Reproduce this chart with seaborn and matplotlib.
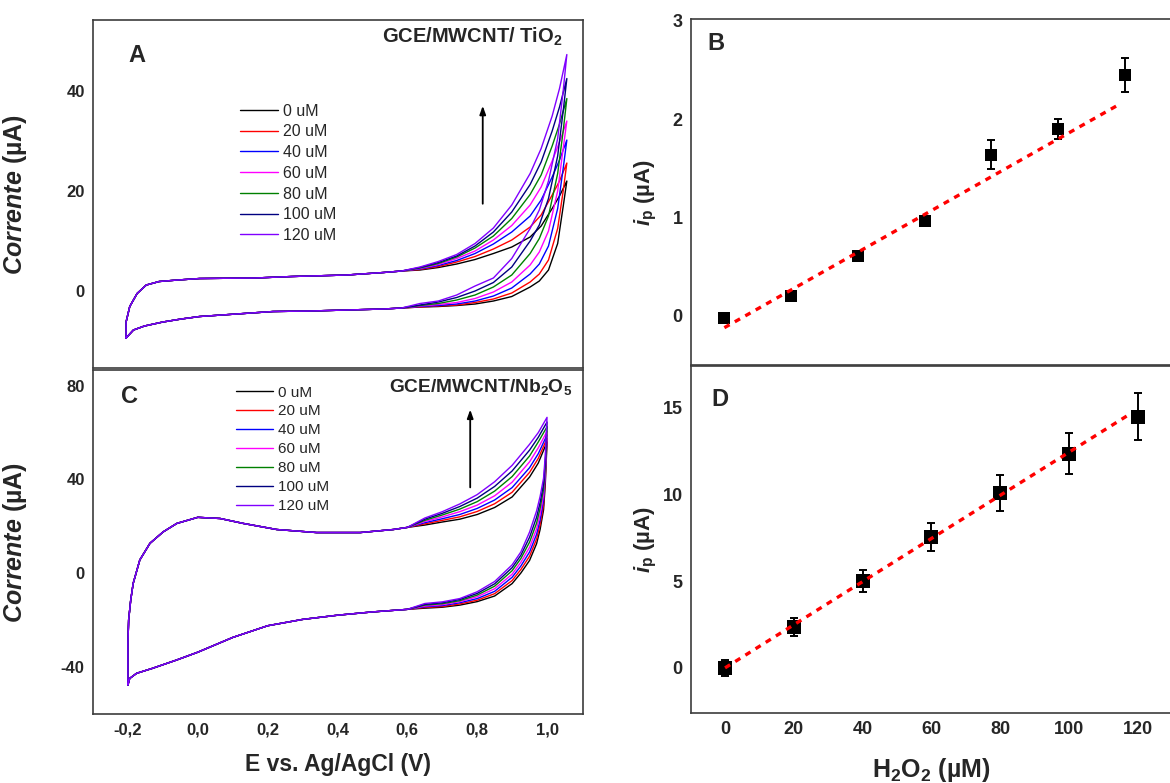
import numpy as np
import pandas as pd
import matplotlib
matplotlib.use("Agg")
import matplotlib.pyplot as plt
import seaborn as sns

# H2O2 additions and trace colours
conc_uM = [0, 20, 40, 60, 80, 100, 120]
conc_labels = ["0 uM", "20 uM", "40 uM", "60 uM", "80 uM", "100 uM", "120 uM"]
trace_colors = ["#000000", "#ff0000", "#0000ff", "#ff00ff", "#008000", "#000080", "#8000ff"]

# ---------------- GCE/MWCNT/TiO2 cyclic voltammograms ----------------
tio2_fwd_E_common = [-0.200, -0.200, -0.190, -0.170, -0.145, -0.110, -0.060, 0.000, 0.150, 0.250, 0.400, 0.500, 0.550]
tio2_fwd_I_common = [-9.4, -6.2, -3.1, -0.5, 1.2, 1.9, 2.2, 2.5, 2.6, 2.9, 3.2, 3.7, 4.0]
tio2_fwd_E = [0.60, 0.65, 0.70, 0.75, 0.80, 0.85, 0.90, 0.93, 0.96, 0.98, 1.00]
tio2_fwd_I = [
    [4.2, 4.7, 5.4, 6.3, 7.5, 8.8, 10.8, 13.0, 16.5, 19.0, 22.0],
    [4.3, 4.9, 5.8, 6.9, 8.4, 10.2, 12.8, 15.2, 19.2, 22.0, 25.6],
    [4.4, 5.1, 6.1, 7.5, 9.4, 11.8, 15.0, 18.2, 22.8, 26.2, 30.2],
    [4.5, 5.3, 6.5, 8.0, 10.2, 13.1, 17.2, 20.8, 26.0, 29.8, 34.0],
    [4.6, 5.5, 6.8, 8.6, 11.0, 14.5, 19.3, 23.2, 29.0, 33.4, 38.5],
    [4.7, 5.7, 7.0, 9.0, 11.8, 15.8, 21.3, 25.8, 32.0, 36.8, 42.5],
    [4.8, 5.9, 7.3, 9.5, 12.6, 17.2, 23.5, 28.5, 35.0, 40.5, 47.3],
]
tio2_rev_E = [1.00, 0.99, 0.975, 0.95, 0.925, 0.90, 0.85, 0.80, 0.75, 0.70, 0.65, 0.60]
tio2_rev_I = [
    [22.0, 16.9, 9.5, 4.2, 2.0, 0.8, -1.1, -2.0, -2.6, -2.9, -3.1, -3.2],
    [25.6, 20.0, 12.5, 6.2, 3.4, 1.8, -0.4, -1.6, -2.3, -2.8, -3.0, -3.2],
    [30.2, 24.5, 16.5, 9.0, 5.4, 3.4, 0.6, -1.0, -2.0, -2.6, -2.9, -3.1],
    [34.0, 28.5, 20.0, 12.0, 7.8, 5.2, 1.8, -0.2, -1.5, -2.3, -2.7, -3.0],
    [38.5, 32.0, 23.5, 15.0, 10.5, 7.5, 3.2, 0.8, -0.8, -1.8, -2.5, -2.9],
    [42.5, 36.0, 27.0, 18.5, 13.2, 10.0, 4.8, 1.7, 0.0, -1.3, -2.2, -2.8],
    [47.3, 40.0, 30.5, 22.0, 16.2, 12.5, 6.5, 2.6, 1.0, -0.8, -2.0, -2.5],
]
tio2_rev_E_common = [0.55, 0.50, 0.40, 0.30, 0.20, 0.10, 0.00, -0.05, -0.10, -0.15, -0.18, -0.20]
tio2_rev_I_common = [-3.4, -3.6, -3.8, -4.0, -4.1, -4.6, -5.1, -5.6, -6.2, -7.0, -7.8, -9.4]

# ---------------- GCE/MWCNT/Nb2O5 cyclic voltammograms ----------------
nb2o5_fwd_E_common = [-0.200, -0.200, -0.198, -0.192, -0.185, -0.166, -0.137, -0.099, -0.060, 0.000,
                      0.064, 0.130, 0.226, 0.340, 0.465, 0.560, 0.600]
nb2o5_fwd_I_common = [-47.8, -30.0, -20.0, -11.5, -4.4, 5.6, 12.7, 17.6, 21.2, 23.8,
                      23.3, 21.2, 18.6, 17.3, 17.3, 18.6, 19.5]
nb2o5_fwd_E = [0.65, 0.70, 0.75, 0.80, 0.85, 0.90, 0.95, 0.975, 1.00]
nb2o5_fwd_I = [
    [20.5, 21.8, 23.0, 25.0, 28.0, 32.5, 41.0, 47.0, 56.0],
    [21.0, 22.5, 24.0, 26.3, 29.6, 34.5, 43.0, 49.0, 57.5],
    [21.5, 23.2, 25.0, 27.6, 31.2, 36.5, 45.0, 51.0, 59.0],
    [22.0, 24.0, 26.2, 29.0, 33.0, 38.8, 47.5, 53.5, 60.5],
    [22.5, 24.8, 27.3, 30.5, 35.0, 41.2, 50.0, 56.0, 62.5],
    [23.0, 25.5, 28.4, 32.0, 37.0, 43.6, 52.5, 58.0, 64.5],
    [23.5, 26.2, 29.5, 33.5, 39.0, 46.0, 55.0, 60.0, 66.5],
]
nb2o5_rev_E = [1.00, 0.995, 0.99, 0.98, 0.97, 0.95, 0.925, 0.90, 0.85, 0.80, 0.75, 0.70, 0.65]
nb2o5_rev_I = [
    [56.0, 38.0, 27.0, 18.5, 12.5, 5.4, 0.0, -4.5, -9.8, -12.2, -13.7, -14.6, -15.0],
    [57.5, 40.0, 29.0, 20.5, 14.5, 7.2, 1.5, -3.2, -8.8, -11.6, -13.2, -14.3, -14.7],
    [59.0, 42.0, 31.0, 22.5, 16.5, 9.0, 3.0, -1.8, -7.8, -10.9, -12.7, -13.9, -14.4],
    [60.5, 44.0, 33.3, 25.0, 18.8, 11.0, 4.6, -0.5, -6.7, -10.1, -12.2, -13.5, -14.1],
    [62.5, 46.0, 35.8, 27.6, 21.3, 13.2, 6.2, 1.0, -5.6, -9.4, -11.8, -13.1, -13.7],
    [64.5, 48.0, 38.0, 30.0, 23.8, 15.3, 7.6, 2.3, -4.6, -8.7, -11.3, -12.7, -13.4],
    [66.5, 50.0, 40.5, 32.6, 26.5, 17.5, 9.0, 3.5, -3.6, -8.0, -10.9, -12.3, -13.0],
]
nb2o5_rev_E_common = [0.60, 0.50, 0.40, 0.30, 0.20, 0.10, 0.00, -0.06, -0.13, -0.175, -0.195, -0.20]
nb2o5_rev_I_common = [-15.5, -16.6, -18.0, -19.8, -22.5, -27.5, -33.8, -37.1, -40.7, -42.8, -45.0, -47.8]

# ---------------- calibration (peak current vs. H2O2) ----------------
ip_tio2 = [-0.02, 0.20, 0.61, 0.97, 1.64, 1.90, 2.45]
ip_tio2_err = [0.02, 0.04, 0.04, 0.05, 0.15, 0.10, 0.17]
fit_tio2 = (-0.12, 0.0192)          # intercept, slope
ip_nb2o5 = [0.0, 2.35, 5.0, 7.54, 10.1, 12.35, 14.48]
ip_nb2o5_err = [0.45, 0.5, 0.65, 0.83, 1.03, 1.2, 1.35]
fit_nb2o5 = (0.0, 0.1243)
fit_range = [0, 118]

cv_xticks = [-0.2, 0.0, 0.2, 0.4, 0.6, 0.8, 1.0]
cv_xticklabels = ["-0,2", "0,0", "0,2", "0,4", "0,6", "0,8", "1,0"]

# ---------------- styling ----------------
sns.set_style("white")
plt.rcParams["font.family"] = ["Liberation Sans", "DejaVu Sans"]
plt.rcParams["font.weight"] = "bold"
plt.rcParams["axes.labelweight"] = "bold"
plt.rcParams["axes.unicode_minus"] = False
plt.rcParams["mathtext.fontset"] = "custom"
plt.rcParams["mathtext.rm"] = "Liberation Sans:bold"
plt.rcParams["mathtext.it"] = "Liberation Sans:italic:bold"
plt.rcParams["mathtext.bf"] = "Liberation Sans:bold"

SPINE = "#3c3c3c"


def cv_frame(fE_c, fI_c, fE, fI, rE, rI, rE_c, rI_c):
    parts = []
    for label, f_i, r_i in zip(conc_labels, fI, rI):
        E = list(fE_c) + list(fE) + list(rE) + list(rE_c)
        I = list(fI_c) + list(f_i) + list(r_i) + list(rI_c)
        parts.append(pd.DataFrame({"E": E, "I": I, "conc": label}))
    return pd.concat(parts, ignore_index=True)


def style_axes(ax):
    for s in ax.spines.values():
        s.set_visible(True)
        s.set_color(SPINE)
        s.set_linewidth(1.2)
    ax.tick_params(length=0, pad=6)


def draw_cv(ax, df, legend_anchor, legend_size, row_space, handle_len):
    sns.lineplot(data=df, x="E", y="I", hue="conc", hue_order=conc_labels,
                 palette=trace_colors, sort=False, estimator=None,
                 linewidth=1.0, ax=ax)
    handles, labels = ax.get_legend_handles_labels()
    ax.legend(handles, labels, loc="upper left", bbox_to_anchor=legend_anchor,
              frameon=False, handlelength=handle_len, handletextpad=0.3,
              labelspacing=row_space, borderpad=0, borderaxespad=0,
              prop={"weight": "normal", "size": legend_size})


def draw_calibration(ax, ip, err, fit, msize):
    ax.errorbar(conc_uM, ip, yerr=err, fmt="none", ecolor="black",
                elinewidth=1.4, capsize=2.6, capthick=1.4, zorder=2)
    sns.scatterplot(x=conc_uM, y=ip, marker="s", s=msize, color="black",
                    linewidth=0, ax=ax, zorder=3)
    fx = np.array(fit_range, dtype=float)
    sns.lineplot(x=fx, y=fit[0] + fit[1] * fx, color="red", linewidth=2.4,
                 linestyle=(0, (1.8, 1.8)), ax=ax, zorder=4)


fig = plt.figure(figsize=(11.7, 7.83), dpi=100)
axA = fig.add_axes([0.0795, 0.530, 0.4188, 0.4444])
axC = fig.add_axes([0.0795, 0.0881, 0.4188, 0.4393])
axB = fig.add_axes([0.5906, 0.5338, 0.441, 0.4419])
axD = fig.add_axes([0.5906, 0.0894, 0.441, 0.4432])

arrow_style = dict(arrowstyle="-|>,head_length=0.5,head_width=0.18", color="black", lw=1.3)

# --- A: TiO2 voltammograms ---
dfA = cv_frame(tio2_fwd_E_common, tio2_fwd_I_common, tio2_fwd_E, tio2_fwd_I,
               tio2_rev_E, tio2_rev_I, tio2_rev_E_common, tio2_rev_I_common)
draw_cv(axA, dfA, (0.30, 0.760), 11.5, 0.36, 2.38)
axA.set_xlim(-0.29, 1.044)
axA.set_ylim(-15.4, 54.2)
axA.set_yticks([0, 20, 40])
axA.set_xticks([])
axA.set_xlabel("")
axA.set_ylabel(r"$\mathit{Corrente}$ (µA)", fontsize=18)
axA.yaxis.set_label_coords(-0.13, 0.5)
axA.annotate("", xy=(0.771, 37.6), xytext=(0.771, 16.9), arrowprops=arrow_style)
axA.text(0.959, 0.935, r"GCE/MWCNT/ TiO$_2$", transform=axA.transAxes,
         ha="right", va="baseline", fontsize=14.5)
axA.text(0.089, 0.899, "A", transform=axA.transAxes, ha="center", va="center", fontsize=17)

# --- C: Nb2O5 voltammograms ---
dfC = cv_frame(nb2o5_fwd_E_common, nb2o5_fwd_I_common, nb2o5_fwd_E, nb2o5_fwd_I,
               nb2o5_rev_E, nb2o5_rev_I, nb2o5_rev_E_common, nb2o5_rev_I_common)
draw_cv(axC, dfC, (0.292, 0.955), 11, 0.32, 2.42)
axC.set_xlim(-0.30, 1.103)
axC.set_ylim(-60.2, 86.7)
axC.set_yticks([-40, 0, 40, 80])
axC.set_xticks(cv_xticks)
axC.set_xticklabels(cv_xticklabels)
axC.set_xlabel("E vs. Ag/AgCl (V)", fontsize=16.5, labelpad=11)
axC.set_ylabel(r"$\mathit{Corrente}$ (µA)", fontsize=18)
axC.yaxis.set_label_coords(-0.13, 0.5)
axC.annotate("", xy=(0.78, 71.0), xytext=(0.78, 35.4), arrowprops=arrow_style)
axC.text(0.978, 0.935, r"GCE/MWCNT/Nb$_2$O$_5$", transform=axC.transAxes,
         ha="right", va="baseline", fontsize=13.8)
axC.text(0.075, 0.924, "C", transform=axC.transAxes, ha="center", va="center", fontsize=17)

# --- B: TiO2 calibration ---
draw_calibration(axB, ip_tio2, ip_tio2_err, fit_tio2, 75)
axB.set_xlim(-10, 144.6)
axB.set_ylim(-0.5, 3.02)
axB.set_yticks([0, 1, 2, 3])
axB.set_xticks([])
axB.set_ylabel(r"$\mathit{i}_{\mathrm{p}}$ (µA)", fontsize=16)
axB.yaxis.set_label_coords(-0.062, 0.5)
axB.text(0.049, 0.93, "B", transform=axB.transAxes, ha="center", va="center", fontsize=17)

# --- D: Nb2O5 calibration ---
draw_calibration(axD, ip_nb2o5, ip_nb2o5_err, fit_nb2o5, 95)
axD.set_xlim(-9.9, 140.1)
axD.set_ylim(-2.6, 17.4)
axD.set_yticks([0, 5, 10, 15])
axD.set_xticks(conc_uM)
axD.set_xlabel(r"H$_2$O$_2$ (µM)", fontsize=18)
axD.xaxis.set_label_coords(0.465, -0.125)
axD.set_ylabel(r"$\mathit{i}_{\mathrm{p}}$ (µA)", fontsize=16)
axD.yaxis.set_label_coords(-0.062, 0.5)
axD.text(0.056, 0.902, "D", transform=axD.transAxes, ha="center", va="center", fontsize=17)

for ax in (axA, axC):
    style_axes(ax)
    ax.tick_params(labelsize=12)
for ax in (axB, axD):
    style_axes(ax)
    ax.tick_params(labelsize=13)

fig.savefig("out.png", dpi=100)
